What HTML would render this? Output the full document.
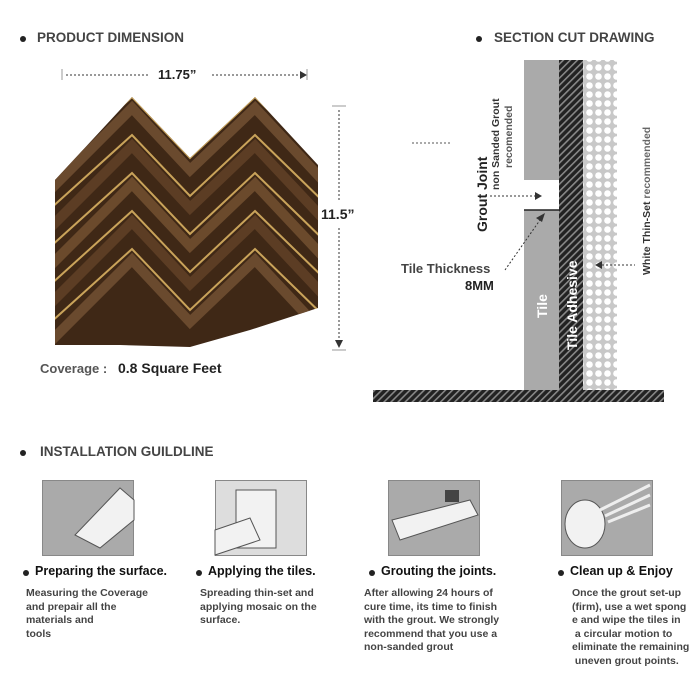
<!DOCTYPE html>
<html><head><style>
body{margin:0;width:700px;height:700px;background:#fff;font-family:"Liberation Sans",Arial,sans-serif;position:relative;overflow:hidden;color:#333}
.a{position:absolute;white-space:nowrap}
.h{font-weight:bold;font-size:13.5px;color:#444}
.dot{position:absolute;width:6px;height:6px;border-radius:50%;background:#222}
.ic{position:absolute;top:480px;width:90px;height:74px;background:#aaa;border:1px solid #888;overflow:hidden}
.t{font-weight:bold;font-size:12.5px;color:#111}
.p{font-weight:bold;font-size:10.5px;color:#444;line-height:13.5px}
</style></head><body>
<div class="dot" style="left:20px;top:36px"></div><div class="a h" style="left:37px;top:30px">PRODUCT DIMENSION</div>
<div class="dot" style="left:476px;top:36px"></div><div class="a h" style="left:494px;top:30px">SECTION CUT DRAWING</div>
<div class="dot" style="left:20px;top:450px"></div><div class="a h" style="left:40px;top:444px">INSTALLATION GUILDLINE</div>

<svg class="a" style="left:0;top:0" width="700" height="420">
<line x1="62" y1="69" x2="62" y2="80" stroke="#999"/>
<line x1="66" y1="75" x2="150" y2="75" stroke="#333" stroke-dasharray="2,2"/>
<line x1="212" y1="75" x2="300" y2="75" stroke="#333" stroke-dasharray="2,2"/>
<polygon points="300,71 307,75 300,79" fill="#333"/>
<line x1="307" y1="69" x2="307" y2="80" stroke="#999"/>
<line x1="332" y1="106" x2="346" y2="106" stroke="#999"/>
<line x1="339" y1="110" x2="339" y2="200" stroke="#333" stroke-dasharray="2,2"/>
<line x1="339" y1="228" x2="339" y2="340" stroke="#333" stroke-dasharray="2,2"/>
<polygon points="335,340 339,348 343,340" fill="#333"/>
<line x1="332" y1="350" x2="346" y2="350" stroke="#999"/>
<defs>
<clipPath id="c"><polygon points="55,180 132,97 190,158 255,97 318,165 318,308 250,330 190,347 120,345 55,345"/></clipPath>
<pattern id="hat" width="5" height="5" patternUnits="userSpaceOnUse" patternTransform="rotate(45)"><rect width="5" height="5" fill="#222"/><rect width="1.6" height="5" fill="#888"/></pattern>
<pattern id="dots" width="9" height="9" patternUnits="userSpaceOnUse"><rect width="9" height="9" fill="#c8c8c8"/><circle cx="4.5" cy="4.5" r="3.3" fill="#fff"/></pattern>
</defs>
<g clip-path="url(#c)">
<rect x="50" y="90" width="270" height="260" fill="#3f2816"/>
<g fill="none" stroke-linejoin="miter">
<polyline points="40,200 132,108 190,170 255,108 330,188" stroke="#6a4a2e" stroke-width="10"/>
<polyline points="40,238 132,146 190,208 255,146 330,226" stroke="#5c3d24" stroke-width="10"/>
<polyline points="40,276 132,184 190,246 255,184 330,264" stroke="#6b4a2c" stroke-width="10"/>
<polyline points="40,314 132,222 190,284 255,222 330,302" stroke="#5c3d24" stroke-width="10"/>
<polyline points="40,352 132,260 190,322 255,260 330,340" stroke="#6a4a2e" stroke-width="10"/>
<polyline points="40,180 132,97 190,158 255,97 330,170" stroke="#c9a35a" stroke-width="2"/>
<polyline points="40,218 132,135 190,196 255,135 330,208" stroke="#c9a35a" stroke-width="2"/>
<polyline points="40,256 132,173 190,234 255,173 330,246" stroke="#c9a35a" stroke-width="2"/>
<polyline points="40,294 132,211 190,272 255,211 330,284" stroke="#c9a35a" stroke-width="2"/>
<polyline points="40,332 132,249 190,310 255,249 330,322" stroke="#c9a35a" stroke-width="2"/>
</g></g>
<line x1="412" y1="143" x2="450" y2="143" stroke="#555" stroke-dasharray="2,2"/>
<rect x="524" y="60" width="35" height="120" fill="#aaa"/>
<rect x="524" y="210" width="35" height="180" fill="#aaa"/>
<line x1="524" y1="210" x2="559" y2="210" stroke="#222" stroke-width="1.5"/>
<rect x="559" y="60" width="24" height="330" fill="url(#hat)"/>
<rect x="583" y="60" width="34" height="330" fill="url(#dots)"/>
<rect x="373" y="390" width="291" height="12" fill="url(#hat)"/>
<line x1="490" y1="196" x2="535" y2="196" stroke="#333" stroke-dasharray="2,2"/>
<polygon points="535,192 542,196 535,200" fill="#333"/>
<line x1="505" y1="270" x2="540" y2="220" stroke="#333" stroke-dasharray="2,2"/>
<polygon points="545,213 536,218 542,222" fill="#333"/>
<line x1="598" y1="265" x2="635" y2="265" stroke="#333" stroke-dasharray="2,2"/>
<polygon points="595,265 602,261 602,269" fill="#333"/>
<text transform="translate(487,232) rotate(-90)" font-family="Liberation Sans" font-weight="bold" font-size="14" fill="#222">Grout Joint</text>
<text transform="translate(499,190) rotate(-90)" font-family="Liberation Sans" font-weight="bold" font-size="10.5" fill="#333">non Sanded Grout</text>
<text transform="translate(512,168) rotate(-90)" font-family="Liberation Sans" font-weight="bold" font-size="10.5" fill="#555">recomended</text>
<text transform="translate(547,318) rotate(-90)" font-family="Liberation Sans" font-weight="bold" font-size="14" fill="#fff">Tile</text>
<text transform="translate(577,350) rotate(-90)" font-family="Liberation Sans" font-weight="bold" font-size="14" fill="#fff">Tile Adhesive</text>
<text transform="translate(650,275) rotate(-90)" font-family="Liberation Sans" font-weight="bold" font-size="10.5" fill="#333">White Thin-Set <tspan fill="#666">recommended</tspan></text>
<text x="401" y="273" font-family="Liberation Sans" font-weight="bold" font-size="13" fill="#444">Tile Thickness</text>
<text x="465" y="290" font-family="Liberation Sans" font-weight="bold" font-size="13" fill="#222">8MM</text>
</svg>
<div class="a" style="left:158px;top:67px;font-weight:bold;font-size:13px;color:#222">11.75”</div>
<div class="a" style="left:321px;top:206px;font-weight:bold;font-size:14px;color:#222">11.5”</div>
<div class="a" style="left:40px;top:361px;font-weight:bold;font-size:13px;color:#555">Coverage :</div>
<div class="a" style="left:118px;top:360px;font-weight:bold;font-size:14px;color:#222">0.8 Square Feet</div>

<div class="ic" style="left:42px"></div>
<div class="ic" style="left:215px;background:#ddd"></div>
<div class="ic" style="left:388px"></div>
<div class="ic" style="left:561px"></div>
<svg class="a" style="left:0;top:480px" width="700" height="76">
<polygon points="75,55 120,8 134,20 134,40 100,68" fill="#f2f2f2" stroke="#555"/>
<rect x="236" y="10" width="40" height="58" fill="#f2f2f2" stroke="#555"/>
<polygon points="215,50 250,38 260,60 215,75" fill="#f2f2f2" stroke="#555"/>
<polygon points="392,40 470,20 478,35 400,60" fill="#f2f2f2" stroke="#555"/>
<rect x="445" y="10" width="14" height="12" fill="#444"/>
<ellipse cx="585" cy="44" rx="20" ry="24" fill="#f2f2f2" stroke="#555"/>
<polyline points="600,30 650,5" stroke="#eee" stroke-width="3"/>
<polyline points="605,36 650,15" stroke="#eee" stroke-width="3"/>
<polyline points="608,42 650,25" stroke="#eee" stroke-width="3"/>
</svg>

<div class="dot" style="left:23px;top:570px"></div><div class="a t" style="left:35px;top:564px">Preparing the surface.</div>
<div class="dot" style="left:196px;top:570px"></div><div class="a t" style="left:208px;top:564px">Applying the tiles.</div>
<div class="dot" style="left:369px;top:570px"></div><div class="a t" style="left:381px;top:564px">Grouting the joints.</div>
<div class="dot" style="left:558px;top:570px"></div><div class="a t" style="left:570px;top:564px">Clean up &amp; Enjoy</div>
<div class="a p" style="left:26px;top:587px">Measuring the Coverage<br>and prepair all the<br>materials and<br>tools</div>
<div class="a p" style="left:200px;top:587px">Spreading thin-set and<br>applying mosaic on the<br>surface.</div>
<div class="a p" style="left:364px;top:587px">After allowing 24 hours of<br>cure time, its time to finish<br>with the grout. We strongly<br>recommend that you use a<br>non-sanded grout</div>
<div class="a p" style="left:572px;top:587px">Once the grout set-up<br>(firm), use a wet spong<br>e and wipe the tiles in<br>&nbsp;a circular motion to<br>eliminate the remaining<br>&nbsp;uneven grout points.</div>
</body></html>
